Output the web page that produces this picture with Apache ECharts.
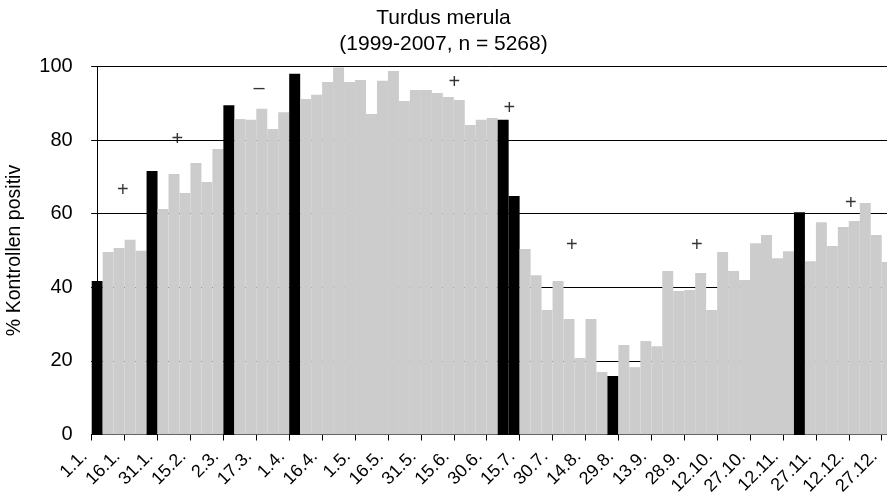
<!DOCTYPE html>
<html><head><meta charset="utf-8">
<script src="https://cdn.jsdelivr.net/npm/echarts@6/dist/echarts.min.js"></script>
<style>html,body{margin:0;padding:0;background:#fff}#c{width:887px;height:499px}</style>
</head><body><div id="c"></div>
<script>
const categories = ['1.1.','6.1.','11.1.','16.1.','21.1.','26.1.','31.1.','5.2.','10.2.','15.2.','20.2.','25.2.',
  '2.3.','7.3.','12.3.','17.3.','22.3.','27.3.','1.4.','6.4.','11.4.','16.4.','21.4.','26.4.',
  '1.5.','6.5.','11.5.','16.5.','21.5.','26.5.','31.5.','5.6.','10.6.','15.6.','20.6.','25.6.',
  '30.6.','5.7.','10.7.','15.7.','20.7.','25.7.','30.7.','4.8.','9.8.','14.8.','19.8.','24.8.',
  '29.8.','3.9.','8.9.','13.9.','18.9.','23.9.','28.9.','2.10.','7.10.','12.10.','17.10.','22.10.',
  '27.10.','1.11.','6.11.','12.11.','17.11.','22.11.','27.11.','2.12.','7.12.','12.12.','17.12.','22.12.','27.12.'];
const values = [41.7,49.6,50.7,52.9,49.9,71.6,61.3,70.8,65.6,73.8,68.6,77.6,
  89.5,85.7,85.5,88.5,83.0,87.6,98.0,91.2,92.3,95.8,99.7,95.8,
  96.3,87.1,96.1,98.8,90.6,93.6,93.6,92.8,91.7,90.9,84.1,85.5,
  86.0,85.5,64.8,50.4,43.3,33.8,41.7,31.4,20.8,31.4,17.0,15.9,
  24.3,18.3,25.4,24.0,44.4,39.0,39.3,43.9,33.8,49.6,44.4,42.0,
  52.0,54.2,47.9,49.8,60.4,47.1,57.7,51.2,56.4,58.0,62.9,54.2,46.9];
const blackBars = [0,5,12,18,37,38,47,64];
const markerX = [2.33, 7.30, 14.75, 32.55, 37.57, 43.26, 54.65, 68.69];
const markerY = [66.3, 80.2, 93.9, 95.6, 88.5, 51.4, 51.4, 62.7];
const markerText = ['+','+','–','+','+','+','+','+'];
const yMin = 0, yMax = 100, yStep = 20;

const FONT = "'Liberation Sans', Arial, Helvetica, sans-serif";
const chart = echarts.init(document.getElementById('c'), null, {renderer:'canvas'});
chart.setOption({
  animation: false,
  backgroundColor: '#fff',
  textStyle: {fontFamily: FONT, color: '#000'},
  title: {
    text: 'Turdus merula\n(1999-2007, n = 5268)',
    left: 'center', top: 0,
    textStyle: {fontFamily: FONT, fontSize: 21, fontWeight: 'normal', color: '#000', lineHeight: 26}
  },
  grid: {left: 91.7, top: 66.5, width: 801, height: 368, containLabel: false, outerBoundsMode: 'none'},
  xAxis: [{
    type: 'category', data: categories, boundaryGap: true,
    axisLine: {lineStyle: {color: '#000', width: 1}},
    axisTick: {show: true, interval: 2, length: 6, lineStyle: {color: '#000'}},
    axisLabel: {interval: 2, rotate: 45, fontSize: 18, color: '#000', fontFamily: FONT,
      margin: 6.5, padding: [0, 18, 0, 0], hideOverlap: false},
    splitLine: {show: false}
  }, {
    type: 'value', min: -0.5, max: 72.5, show: false
  }],
  yAxis: {
    type: 'value', min: yMin, max: yMax, interval: yStep,
    axisLine: {show: true, lineStyle: {color: '#000', width: 1}},
    axisTick: {show: true, length: 6, lineStyle: {color: '#000'}},
    axisLabel: {fontSize: 20, color: '#000', margin: 19, fontFamily: FONT},
    splitLine: {show: true, lineStyle: {color: '#000', width: 1}},
    name: '% Kontrollen positiv', nameLocation: 'middle', nameGap: 67,
    nameTextStyle: {fontSize: 19.5, color: '#000', fontFamily: FONT}
  },
  series: [{
    type: 'bar', xAxisIndex: 0, barCategoryGap: '0%', silent: true,
    data: values.map((v, i) => ({value: v, itemStyle: {color: blackBars.includes(i) ? '#000' : '#cccccc'}}))
  }, {
    type: 'scatter', xAxisIndex: 1, symbolSize: 0, silent: true, z: 5,
    data: markerX.map((x, i) => [x, markerY[i]]),
    label: {show: true, position: 'inside', fontSize: 20, color: '#000', fontFamily: FONT,
      formatter: p => markerText[p.dataIndex]}
  }]
});
</script></body></html>
